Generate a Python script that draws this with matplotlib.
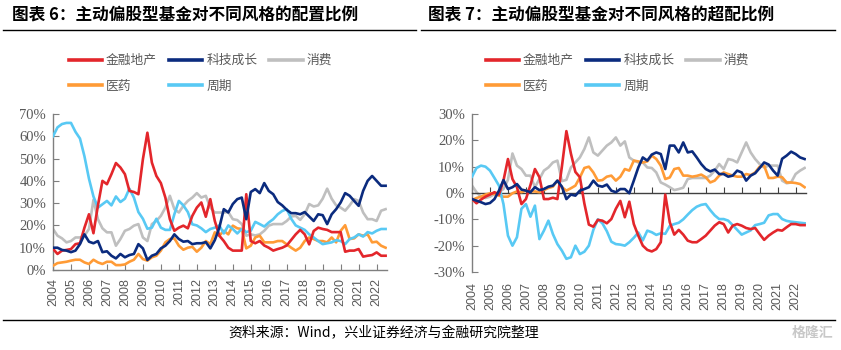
import numpy as np
import pandas as pd
import matplotlib
matplotlib.use("Agg")
import matplotlib.pyplot as plt
from matplotlib.lines import Line2D
from matplotlib.ticker import FuncFormatter

plt.rcParams['font.family'] = ['Noto Sans CJK SC', 'DejaVu Sans']

# quarterly data, 2004Q1 - 2022Q3
quarters = pd.period_range('2004Q1', '2022Q3', freq='Q')
x = np.asarray(quarters.year + (quarters.quarter - 1) / 4, dtype=float)
years = list(range(2004, 2023))
year_labels = [str(y) for y in years]

names = ['金融地产', '科技成长', '消费', '医药', '周期']
colors = ['#E3262B', '#0B2B7E', '#BFBFBF', '#FF9B36', '#58C9F4']

# 图表6: allocation ratio (%)
fin_alloc = [9.5, 7.2, 8.7, 9, 9.4, 11.6, 12, 19, 25, 16.5, 29, 40,
             38.5, 43, 48, 46, 43, 35.5, 35, 34, 49.7, 61.6, 48.2, 42.2,
             39, 32.5, 22.8, 17.6, 19, 19.9, 18.7, 24.3, 28, 30.3, 23.9, 31.8,
             22, 15.4, 13, 10, 8.7, 8.7, 8.7, 34, 13, 12, 13, 11,
             10, 8.7, 9.4, 10, 11, 13.5, 16, 18, 16, 11.5, 17.5, 19,
             18.4, 18, 17, 17, 17, 8.2, 8.7, 8.7, 9.4, 6, 6.4, 6.7,
             7.9, 6.4, 6.4]
tech_alloc = [10, 10, 9, 8.7, 8, 8.7, 11.6, 16, 12.7, 12, 13, 8,
              8.4, 6.4, 5.2, 7.2, 5.7, 6.7, 7.2, 11.6, 9.7, 4.5, 6.4, 7.2,
              9.7, 10.9, 13, 16, 13.9, 12.7, 13, 11.6, 12, 12, 12.5, 9.7,
              13.4, 19, 27.3, 25.8, 29.6, 31.8, 32.5, 22.8, 35, 36.3, 34.5, 39,
              35.5, 34, 30.5, 29, 27, 25.5, 25.5, 25, 26, 24, 22, 25,
              24.6, 20.6, 25, 27.3, 30.3, 34.5, 33.3, 31, 28.8, 35.5, 40, 42.2,
              40, 37.8, 37.8]
cons_alloc = [18.4, 15.4, 14.2, 12.4, 13, 14.6, 14.6, 15.4, 18.4, 31.5, 22.8, 18.7,
              16.9, 16.9, 10.9, 13.9, 17.6, 18.4, 19.9, 20.6, 14.6, 13, 20.6, 22,
              24.3, 28, 33.3, 27.3, 25.8, 28.8, 31, 32.5, 34.5, 32.5, 33.3, 28,
              25.8, 25.8, 25.8, 26, 22.8, 22.4, 20.6, 15.4, 16, 15.5, 16, 17.6,
              19.9, 20.6, 20.6, 20.6, 22, 24, 24.3, 22.5, 25, 29.6, 28.5, 29,
              32, 36.5, 32, 29, 28, 26.6, 29, 31.8, 31, 25.8, 22.8, 22.8,
              22, 26.6, 27.3]
med_alloc = [1.9, 3.1, 3.4, 3.7, 4.2, 4.6, 4.6, 3.4, 2.7, 4.6, 3.4, 2.7,
             3.7, 3.7, 2.2, 2.2, 2.5, 3.7, 4.6, 7.2, 4.9, 4.2, 5.7, 6.4,
             8.7, 12.4, 13.9, 14.2, 10.9, 9.1, 10, 10.4, 8.2, 10, 13, 11.6,
             16.9, 15.4, 17.6, 16, 19.9, 18.7, 18.4, 9.7, 10.9, 14.6, 15.4, 12.4,
             12.4, 12.4, 13, 13, 11.5, 10, 8.7, 10, 13, 14.6, 13.9, 13,
             13, 12.4, 14.6, 12.4, 17.6, 20.1, 13.9, 14.2, 16, 15.4, 16, 12.4,
             12.7, 10.9, 10]
cyc_alloc = [60, 64, 65.5, 66, 66, 62, 59, 51, 41, 33, 28, 29.5,
             31, 29, 33, 30.5, 32, 36.5, 32.5, 26, 23, 18.5, 19, 23,
             19, 18, 18, 25, 31, 29, 26, 20.5, 20, 18.7, 17, 18.4,
             19, 20, 16.4, 20, 18.4, 16.4, 18.4, 17, 17.6, 21.6, 20.6, 19.5,
             21.3, 22.8, 25, 26.5, 27.3, 23, 20, 19, 18, 16, 14.6, 13,
             11.6, 12, 12.4, 13.4, 13, 11.6, 13.9, 14.6, 16, 15, 17, 16.4,
             17.6, 18.4, 18.4]

# 图表7: over-allocation ratio (%)
fin_over = [-2.3, -3.9, -2.5, -1.4, -0.6, 0.3, -0.6, 4.7, 12.9, 5.3, 2.2, -4.2,
            -2.3, 3, 9.1, 6, -2.3, -2.3, -1.8, -2.3, 10, 23.5, 15, 8,
            6, -4, -12, -12.8, -10.2, -10.5, -11.5, -9.9, -6, -3, -9.2, -3.3,
            -11.8, -16.2, -20, -21.6, -22.2, -21.3, -18.7, -0.6, -11.1, -15.8, -14, -15.8,
            -18.1, -18.7, -18.7, -17.5, -16.2, -14.3, -12.4, -11.1, -11.8, -15, -12.4, -11.8,
            -12.4, -13.3, -13.7, -13.3, -15.6, -17.8, -16.2, -15, -14, -14.3, -13, -11.8,
            -11.8, -12.2, -12.2]
tech_over = [-2.3, -2.9, -3.5, -4.2, -3.8, -2.3, 0.9, 4.9, 1.5, 2.2, 3.4, 1.3,
             0.9, 0.3, 2.2, 1.1, 1.5, 2.4, 2.8, 4.7, 2.4, -2.3, -0.6, -1,
             0.9, 1.5, 2.2, 4.7, 2.8, 2.4, 3.2, 0.9, 0.3, 1.5, 1.5, -0.1,
             4.7, 9.7, 13.5, 12.3, 14.6, 15.4, 14.8, 9.1, 18, 18, 15.4, 19.2,
             15.4, 15.8, 13.5, 11, 9.1, 8.2, 8.9, 7.2, 7.2, 6.2, 6.6, 8.5,
             7.8, 4.7, 6.6, 7.5, 9.5, 11.6, 10.8, 8.5, 6.6, 13, 14.2, 15.7,
             14.8, 13.5, 12.9]
cons_over = [2.8, 0.3, -1.4, -1.9, -1.4, -0.4, 0.3, 1.5, 5, 15, 10.4, 9.1,
             6.6, 6.6, 2.2, 5.3, 8.5, 9.7, 11.6, 12.3, 4.5, 5, 9.7, 11.6,
             13.5, 16.7, 21.1, 15.4, 14.2, 16.1, 18, 19.2, 21.1, 18, 19.6, 13.5,
             12.3, 11.6, 11.6, 9.7, 9.5, 7.8, 4, 3.2, 2.2, 1.1, 1.5, 2,
             5.3, 5.7, 5.7, 5.7, 5.7, 6.6, 8.5, 11, 9.1, 12.9, 12.5, 11.6,
             15.4, 19.2, 15.4, 12.9, 11, 9.7, 10.4, 10.4, 10.4, 4.7, 3.7, 4,
             7.2, 8.5, 9.5]
med_over = [-2.7, -1.9, -1.4, -0.6, -0.1, -0.4, -1, -1.4, -1.4, -0.1, 0.6, 0.3,
            0.9, 0.6, 0.6, 0.3, 1.1, 1.9, 2.4, 4.7, 2.2, 0.9, 1.8, 2.8,
            5.9, 9.5, 10, 7.8, 4.7, 4.9, 6.2, 6.6, 4.7, 6.2, 9.1, 8.5,
            12.3, 12, 11.6, 12, 14.2, 12.9, 10.4, 5.3, 5.9, 9.1, 9.5, 6.6,
            6.6, 6.2, 6.5, 7, 6, 4, 4.7, 6.6, 7.8, 7.2, 6.6, 6.2,
            6.2, 7.2, 6.8, 7.8, 10, 10.4, 5.7, 5.7, 6.2, 6, 4, 4,
            3.8, 3.4, 2.2]
cyc_over = [6.2, 9.5, 10.4, 10, 8.5, 5.7, 2.8, -4.2, -16.2, -20, -16.8, -6,
            -4.2, -9, -4.8, -17.5, -14.3, -10.5, -15.6, -19.4, -21.9, -25, -24.4, -20,
            -23.2, -22.3, -20, -14, -10, -11.5, -14.5, -18.5, -19.4, -19.6, -20, -18.7,
            -17, -15, -18, -14.3, -14.9, -15.9, -15.3, -15.5, -12.5, -11.8, -11.3, -10,
            -8.2, -6.5, -5.2, -4.5, -4.2, -6.5, -8.5, -9.9, -9.9, -10.5, -12.2, -14,
            -15.8, -15, -14.2, -12.2, -11.8, -11.3, -8.5, -8, -8, -9.9, -10.6, -10.9,
            -11.1, -11.3, -11.5]

alloc = [fin_alloc, tech_alloc, cons_alloc, med_alloc, cyc_alloc]
over = [fin_over, tech_over, cons_over, med_over, cyc_over]

W, H = 841, 350
fig = plt.figure(figsize=(W / 100, H / 100), dpi=100)
fig.patch.set_facecolor('white')

grey = '#595959'
serif = ['Liberation Serif', 'DejaVu Serif']
zorders = [5, 6, 2, 3, 4]


def fx(px):
    return px / W


def fy(py):
    return 1 - py / H


def style_axes(ax, lo, hi, step):
    ax.set_xlim(2004, 2022.6)
    ax.set_ylim(lo, hi)
    ax.set_yticks(np.arange(lo, hi + 1, step))
    ax.yaxis.set_major_formatter(FuncFormatter(lambda v, _: f'{v:.0f}%'))
    for s in ['top', 'right']:
        ax.spines[s].set_visible(False)
    for s in ['left', 'bottom']:
        ax.spines[s].set_color('#7F7F7F')
        ax.spines[s].set_linewidth(1.0)
    ax.tick_params(axis='y', direction='in', length=4, color='#7F7F7F',
                   labelcolor=grey, labelsize=10.5, pad=5)
    for t in ax.get_yticklabels():
        t.set_family(serif)
    ax.set_xticks(years)


def draw_lines(ax, series):
    for s, c, z in zip(series, colors, zorders):
        ax.plot(x, s, color=c, lw=1.9, zorder=z, solid_joinstyle='round')


def add_legend(x0, y0):
    order = [0, 3, 1, 4, 2]
    handles = [Line2D([], [], color=colors[i], lw=2.6) for i in order]
    fig.legend(handles, [names[i] for i in order], ncol=3, loc='upper left',
               bbox_to_anchor=(fx(x0), fy(y0)), bbox_transform=fig.transFigure,
               frameon=False, fontsize=9.2, labelcolor=grey,
               handlelength=2.6, handletextpad=0.3, columnspacing=0.95,
               labelspacing=1.0, borderpad=0, borderaxespad=0)


# left panel
ax1 = fig.add_axes([fx(53), fy(270), fx(334.4), 156 / H])
style_axes(ax1, 0, 70, 10)
draw_lines(ax1, alloc)
ax1.tick_params(axis='x', direction='in', length=4, color='#7F7F7F', pad=6)
ax1.set_xticklabels(year_labels, rotation=90, fontsize=9, color=grey,
                    family=['Liberation Sans', 'DejaVu Sans'])

# right panel
ax2 = fig.add_axes([fx(472), fy(272), fx(334.4), 158 / H])
style_axes(ax2, -30, 30, 10)
ax2.spines['bottom'].set_position(('data', 0))
ax2.spines['bottom'].set_color('#404040')
draw_lines(ax2, over)
ax2.tick_params(axis='x', direction='in', length=4, color='#404040',
                labelbottom=False)
sec = ax2.secondary_xaxis('bottom')
sec.set_xticks(years)
sec.set_xticklabels(year_labels, rotation=90, fontsize=9, color=grey,
                    family=['Liberation Sans', 'DejaVu Sans'])
sec.tick_params(length=0, pad=7)
sec.spines['bottom'].set_visible(False)

add_legend(69, 54)
add_legend(486, 54)

# titles and rules
fig.text(fx(12), fy(15), '图表 6：主动偏股型基金对不同风格的配置比例',
         fontsize=12, fontweight='bold', va='center', ha='left')
fig.text(fx(428), fy(15), '图表 7：主动偏股型基金对不同风格的超配比例',
         fontsize=12, fontweight='bold', va='center', ha='left')
fig.add_artist(Line2D([fx(3), fx(416)], [fy(30), fy(30)], color='black', lw=1.0))
fig.add_artist(Line2D([fx(421), fx(835)], [fy(30), fy(30)], color='black', lw=1.0))
fig.add_artist(Line2D([fx(3), fx(835)], [fy(320), fy(320)], color='black', lw=1.0))

fig.text(fx(384), fy(333), '资料来源：Wind，兴业证券经济与金融研究院整理',
         fontsize=10, va='center', ha='center', color='black')
fig.text(fx(833), fy(333), '格隆汇', fontsize=10, va='center', ha='right',
         color='#C8C8C8', fontweight='bold')

fig.savefig('out.png', dpi=100, facecolor='white')
